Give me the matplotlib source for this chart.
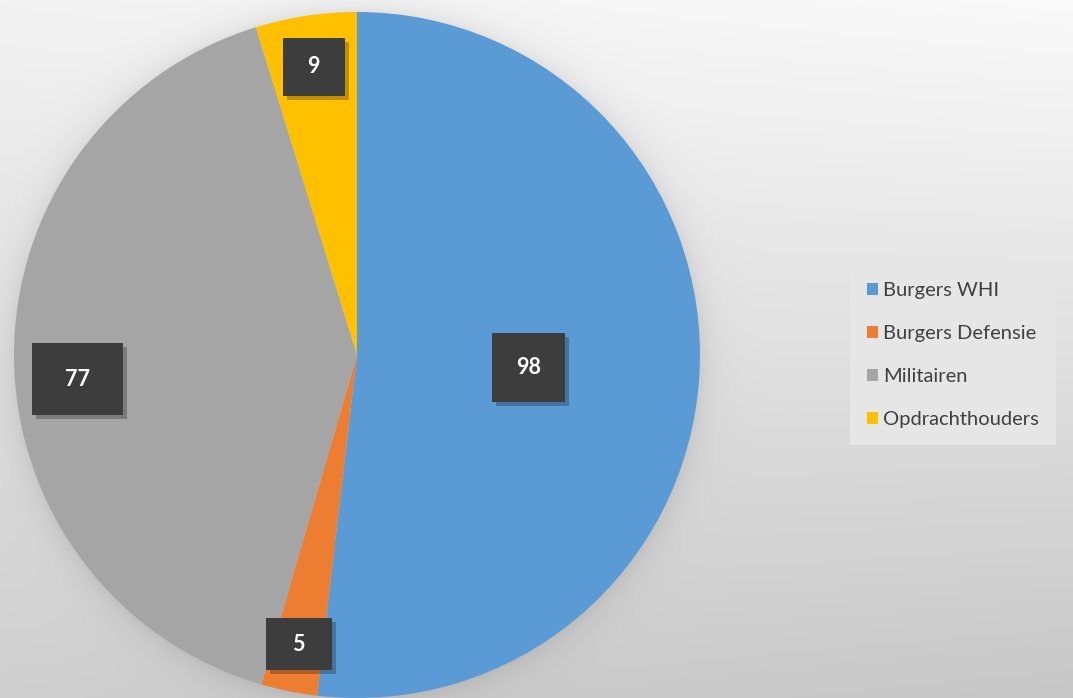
import matplotlib.pyplot as plt
import numpy as np
from matplotlib.patches import Rectangle

# data
categories = ['Burgers WHI', 'Burgers Defensie', 'Militairen', 'Opdrachthouders']
values = [98, 5, 77, 9]
colors = ['#5B9BD5', '#ED7D31', '#A5A5A5', '#FFC000']

# label placement (radius fraction, vertical nudge px, box size px)
label_r = [0.5, 0.86, 0.815, 0.85]
label_dy = [3, 0, 22, 0]
box_px = [(73, 69), (66, 52), (91, 72), (62, 58)]

plt.rcParams['font.family'] = ['Lato', 'DejaVu Sans']

W, H = 1073, 698
R = 343
cx, cy = 357, 343

fig = plt.figure(figsize=(W / 100, H / 100), dpi=100)

# background gradient + soft shadow round the pie
bg = fig.add_axes([0, 0, 1, 1], zorder=0)
yy, xx = np.mgrid[0:H, 0:W]
u, v = xx / W, yy / H
shade = 0.95 + 0.03 * u - v * (0.14 + 0.06 * u)
d = np.sqrt((xx - cx) ** 2 + (yy - (H - cy)) ** 2)
shade = shade - 0.07 * np.exp(-np.clip(d - R, 0, None) / 14)
bg.imshow(np.dstack([shade] * 3), extent=[0, W, H, 0], aspect='auto')
bg.axis('off')

ax = fig.add_axes([(cx - R) / W, (cy - R) / H, 2 * R / W, 2 * R / H], zorder=1)
ax.patch.set_alpha(0)
wedges, _ = ax.pie(values, colors=colors, startangle=90, counterclock=False,
                   radius=1, wedgeprops=dict(linewidth=0))
ax.set_xlim(-1, 1)
ax.set_ylim(-1, 1)
ax.set_aspect('equal')

total = sum(values)
start = 90
for v_, r, dy, (bw, bh) in zip(values, label_r, label_dy, box_px):
    span = 360 * v_ / total
    mid = np.deg2rad(start - span / 2)
    start -= span
    x, y = r * np.cos(mid), r * np.sin(mid) - dy / R
    w, h = bw / R, bh / R
    ax.add_patch(Rectangle((x - w / 2 + 4 / R, y - h / 2 - 4 / R), w, h,
                           facecolor='black', alpha=0.25, linewidth=0, zorder=3))
    ax.add_patch(Rectangle((x - w / 2, y - h / 2), w, h,
                           facecolor='#3d3d3d', linewidth=0, zorder=4))
    ax.text(x, y, str(v_), color='white', fontsize=15.5, fontweight='bold',
            ha='center', va='center', zorder=5)

leg = fig.legend(wedges, categories, loc='center left',
                 bbox_to_anchor=(850 / W, 1 - 355 / H), fontsize=14.5,
                 frameon=True, fancybox=False, edgecolor='none',
                 facecolor='#e6e6e6', framealpha=1, labelspacing=1.3,
                 handlelength=0.55, handleheight=0.55, handletextpad=0.25,
                 borderpad=0.85, borderaxespad=0)
for t in leg.get_texts():
    t.set_color('#404040')
leg.set_zorder(6)

fig.savefig('out.png', dpi=100)
